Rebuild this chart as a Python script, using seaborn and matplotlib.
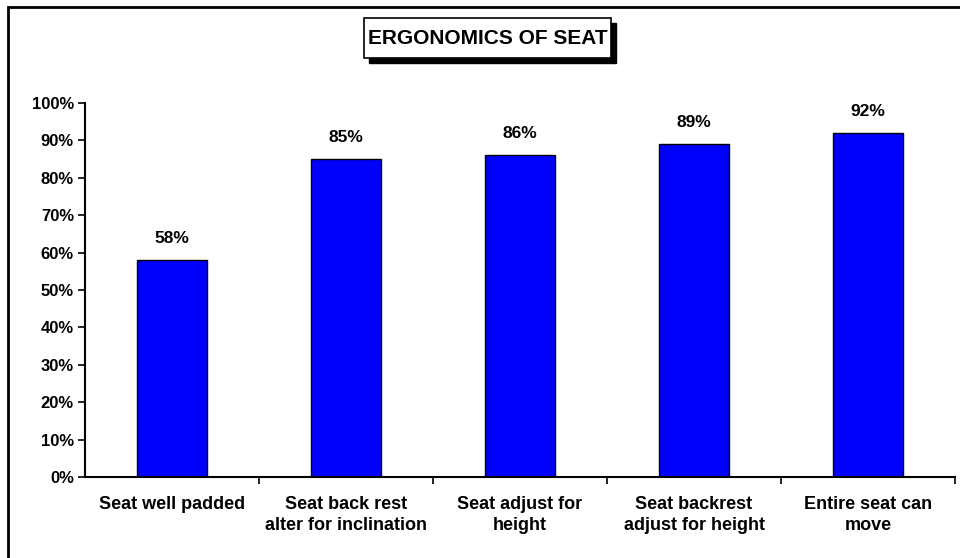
import matplotlib
matplotlib.use("Agg")
import matplotlib.pyplot as plt
from matplotlib.patches import Rectangle
from matplotlib.ticker import FixedLocator, MultipleLocator, FuncFormatter
import seaborn as sns
import pandas as pd

# Survey results: share of respondents per seat feature
categories = [
    "Seat well padded",
    "Seat back rest\nalter for inclination",
    "Seat adjust for\nheight",
    "Seat backrest\nadjust for height",
    "Entire seat can\nmove",
]
values = [58, 85, 86, 89, 92]
value_labels = ["58%", "85%", "86%", "89%", "92%"]
title = "ERGONOMICS OF SEAT"

sns.set_theme(style="white")
plt.rcParams["font.family"] = ["Liberation Sans", "DejaVu Sans"]
plt.rcParams["font.weight"] = "bold"
for key in ("text.color", "axes.labelcolor", "xtick.color", "ytick.color"):
    plt.rcParams[key] = "black"

df = pd.DataFrame({"feature": categories, "share": values})

fig = plt.figure(figsize=(9.6, 5.58), dpi=100)
fig.patch.set_facecolor("white")
ax = fig.add_axes([85 / 960, 1 - 477 / 558, 870 / 960, 374 / 558])

sns.barplot(data=df, x="feature", y="share", color="#0000ff", saturation=1,
            width=0.4, edgecolor="black", linewidth=1.0, ax=ax)

ax.set_xlim(-0.5, len(categories) - 0.5)
ax.set_ylim(0, 100)
ax.set_xlabel("")
ax.set_ylabel("")

# y axis: percent ticks pointing outward
ax.yaxis.set_major_locator(MultipleLocator(10))
ax.yaxis.set_major_formatter(FuncFormatter(lambda v, _: f"{v:.0f}%"))
ax.tick_params(axis="y", which="major", direction="out", length=5, width=1.2,
               color="black", left=True, labelsize=12, pad=3, labelcolor="black")
for lab in ax.get_yticklabels():
    lab.set_fontweight("bold")

# x axis: labels under bars, tick marks at category boundaries
ax.set_xticks(range(len(categories)))
ax.set_xticklabels(categories, fontsize=13, fontweight="bold", linespacing=1.3,
                   color="black")
ax.tick_params(axis="x", which="major", length=0, pad=14)
ax.xaxis.set_minor_locator(FixedLocator([i + 0.5 for i in range(len(categories))]))
ax.tick_params(axis="x", which="minor", direction="out", length=5, width=1.2,
               color="black", bottom=True)

for side in ("top", "right"):
    ax.spines[side].set_visible(False)
for side in ("left", "bottom"):
    ax.spines[side].set_color("black")
    ax.spines[side].set_linewidth(1.5)
ax.grid(False)

# value labels above bars
for i, (v, t) in enumerate(zip(values, value_labels)):
    ax.annotate(t, (i, v), xytext=(0, 10), textcoords="offset points",
                ha="center", va="bottom", fontsize=12.5, fontweight="bold",
                color="black")

# title in a box with a drop shadow
bx0, by0, bw, bh = 364 / 960, 1 - 58 / 558, 247 / 960, 40 / 558
shadow = Rectangle((bx0 + 5 / 960, by0 - 5 / 558), bw, bh, transform=fig.transFigure,
                   facecolor="black", edgecolor="black", zorder=5)
box = Rectangle((bx0, by0), bw, bh, transform=fig.transFigure,
                facecolor="white", edgecolor="black", linewidth=1.2, zorder=6)
fig.add_artist(shadow)
fig.add_artist(box)
fig.text(bx0 + bw / 2, by0 + bh / 2, title, ha="center", va="center",
         fontsize=15, fontweight="bold", zorder=7, color="black",
         transform=fig.transFigure)

# outer chart frame
frame = Rectangle((8 / 960, -0.05), 1.0, 1 - 7 / 558 + 0.05, transform=fig.transFigure,
                  facecolor="none", edgecolor="black", linewidth=2, zorder=1)
fig.add_artist(frame)

fig.savefig("out.png", dpi=100, facecolor="white")
